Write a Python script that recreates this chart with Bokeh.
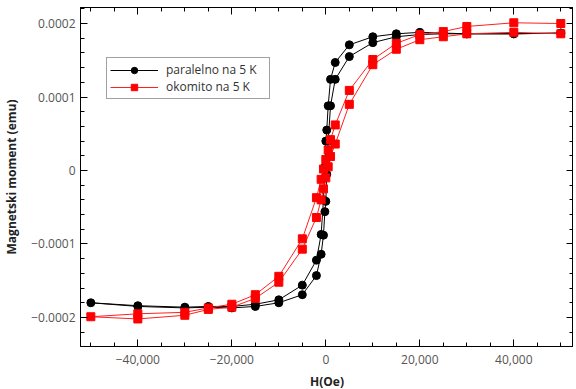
import numpy as np
from bokeh.plotting import figure
from bokeh.models import (Range1d, LinearAxis, SingleIntervalTicker, CustomJSTickFormatter,
                          Legend, LegendItem)
from bokeh.embed import file_html
from bokeh.resources import INLINE

# ---- data (moment in units of 1e-4 emu) ----
par_H = [50000, 40000, 30000, 25000, 20000, 15000, 10000, 5000, 2000, 1000, 500, 200, 0,
         -200, -500, -1000, -2000, -5000, -10000, -15000, -20000, -25000, -30000, -40000, -50000,
         -40000, -30000, -25000, -20000, -15000, -10000, -5000, -2000, -1000, -500, -200, 0,
         200, 500, 1000, 2000, 5000, 10000, 15000, 20000, 25000, 30000, 40000, 50000]
par_M = [1.87, 1.86, 1.86, 1.87, 1.88, 1.86, 1.82, 1.71, 1.47, 1.24, 0.88, 0.55, 0.40,
         0.05, -0.40, -0.87, -1.22, -1.56, -1.76, -1.82, -1.85, -1.85, -1.86, -1.84, -1.80,
         -1.85, -1.87, -1.86, -1.87, -1.85, -1.80, -1.69, -1.43, -1.14, -0.88, -0.56, -0.42,
         -0.05, 0.40, 0.88, 1.24, 1.55, 1.74, 1.82, 1.85, 1.86, 1.86, 1.86, 1.87]

oko_H = [50000, 40000, 30000, 25000, 20000, 15000, 10000, 5000, 2000, 1000, 500, 0,
         -500, -1000, -2000, -5000, -10000, -15000, -20000, -25000, -30000, -40000, -50000,
         -40000, -30000, -25000, -20000, -15000, -10000, -5000, -2000, -1000, -500, 0,
         500, 1000, 2000, 5000, 10000, 15000, 20000, 25000, 30000, 40000, 50000]
oko_M = [2.00, 2.01, 1.96, 1.89, 1.85, 1.73, 1.51, 1.09, 0.62, 0.42, 0.28, 0.15,
         0.02, -0.12, -0.37, -0.93, -1.44, -1.69, -1.82, -1.87, -1.93, -1.95, -1.99,
         -2.02, -1.97, -1.89, -1.86, -1.74, -1.52, -1.07, -0.64, -0.40, -0.25, -0.10,
         0.05, 0.19, 0.36, 0.90, 1.44, 1.65, 1.78, 1.82, 1.86, 1.88, 1.86]

series_names = ["paralelno na 5 K", "okomito na 5 K"]
x_title = "H(Oe)"
y_title = "Magnetski moment (emu)"

SCALE = 1e-4
par_y = (np.array(par_M) * SCALE).tolist()
oko_y = (np.array(oko_M) * SCALE).tolist()

FONT = "Open Sans"

p = figure(frame_width=493, frame_height=339, output_backend="svg", toolbar_location=None,
           x_range=Range1d(-52200, 52700), y_range=Range1d(-0.0002395, 0.0002218),
           x_axis_type=None, y_axis_type=None,
           min_border_left=72, min_border_right=0, min_border_top=7, min_border_bottom=30)
p.background_fill_color = "white"
p.border_fill_color = "white"
p.outline_line_color = "black"
p.outline_line_width = 1
p.xgrid.visible = False
p.ygrid.visible = False

xfmt = CustomJSTickFormatter(code="""
const v = Math.round(tick);
if (v == 0) return '0';
return (v < 0 ? '\\u2212' : '') + Math.abs(v).toLocaleString('en-US');
""")
yfmt = CustomJSTickFormatter(code="""
const v = Math.round(tick * 1e4) / 1e4;
if (v == 0) return '0';
return (v < 0 ? '\\u2212' : '') + Math.abs(v).toFixed(4);
""")
blank = CustomJSTickFormatter(code="return '';")


def style(ax, labels=True):
    ax.major_tick_in = 7
    ax.major_tick_out = 0
    ax.minor_tick_in = 4
    ax.minor_tick_out = 0
    ax.major_tick_line_color = "black"
    ax.minor_tick_line_color = "black"
    ax.axis_line_color = "black"
    ax.major_label_text_font = FONT
    ax.major_label_text_font_size = "12px"
    ax.major_label_text_color = "#555555"
    ax.axis_label_text_font = FONT
    ax.axis_label_text_font_size = "12px"
    ax.axis_label_text_font_style = "bold"
    ax.axis_label_text_color = "#222222"
    if not labels:
        ax.major_label_standoff = 0
        ax.major_label_text_font_size = "0px"
        ax.axis_label_standoff = 0


xt = SingleIntervalTicker(interval=20000, num_minor_ticks=4)
yt = SingleIntervalTicker(interval=0.0001, num_minor_ticks=5)

xb = LinearAxis(ticker=xt, formatter=xfmt, axis_label=x_title)
style(xb)
xb.major_label_standoff = 8
xb.axis_label_standoff = 6
p.add_layout(xb, "below")

yl = LinearAxis(ticker=yt, formatter=yfmt, axis_label=y_title)
style(yl)
yl.major_label_standoff = 5
yl.axis_label_standoff = 8
p.add_layout(yl, "left")

xa = LinearAxis(ticker=SingleIntervalTicker(interval=20000, num_minor_ticks=4), formatter=blank)
style(xa, labels=False)
p.add_layout(xa, "above")

yr = LinearAxis(ticker=SingleIntervalTicker(interval=0.0001, num_minor_ticks=5), formatter=blank)
style(yr, labels=False)
p.add_layout(yr, "right")

l1 = p.line(par_H, par_y, line_color="black", line_width=1)
m1 = p.scatter(par_H, par_y, marker="circle", size=8, fill_color="black", line_color="black")
l2 = p.line(oko_H, oko_y, line_color="#ff2020", line_width=1)
m2 = p.scatter(oko_H, oko_y, marker="square", size=8, fill_color="#ff0000", line_color="#ff0000")

leg = Legend(items=[LegendItem(label=series_names[0], renderers=[l1, m1]),
                    LegendItem(label=series_names[1], renderers=[l2, m2])],
             location=(26, 247))
leg.label_text_font = FONT
leg.label_text_font_size = "12px"
leg.label_text_color = "#333333"
leg.border_line_color = "#444444"
leg.border_line_width = 1
leg.glyph_width = 48
leg.glyph_height = 16
leg.label_height = 16
leg.label_width = 100
leg.label_standoff = 8
leg.padding = 3
leg.margin = 0
leg.spacing = 0
leg.background_fill_alpha = 1
p.add_layout(leg, "center")

open("out.html", "w").write(file_html(p, INLINE))
